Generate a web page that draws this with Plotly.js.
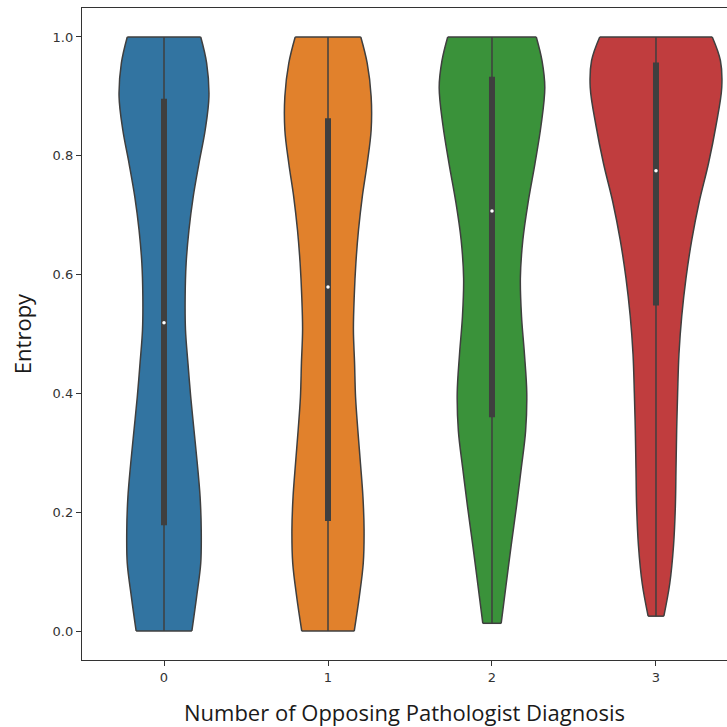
<!DOCTYPE html>
<html>
<head>
<meta charset="utf-8">
<script src="https://cdn.plot.ly/plotly-3.0.1.min.js"></script>
<style>html,body{margin:0;padding:0;background:#fff;overflow:hidden}#chart{width:727px;height:727px}</style>
</head>
<body>
<div id="chart"></div>
<script>
// Categories (number of opposing pathologist diagnoses)
const categories = [0, 1, 2, 3];
const tickLabels = ['0', '1', '2', '3'];

// Density profile of each violin: entropy levels and half-widths (in category units)
const levels0 = [0, 0.058, 0.114, 0.17, 0.226, 0.282, 0.338, 0.394, 0.451, 0.507, 0.563, 0.619, 0.675, 0.731, 0.787, 0.843, 0.9, 0.956, 1.0];
const width0  = [0.170, 0.199, 0.224, 0.227, 0.220, 0.203, 0.183, 0.163, 0.146, 0.131, 0.129, 0.135, 0.152, 0.178, 0.213, 0.251, 0.274, 0.260, 0.224];
const levels1 = [0, 0.058, 0.114, 0.17, 0.226, 0.282, 0.338, 0.394, 0.451, 0.507, 0.563, 0.619, 0.675, 0.731, 0.787, 0.843, 0.9, 0.956, 1.0];
const width1  = [0.160, 0.191, 0.215, 0.220, 0.213, 0.198, 0.182, 0.168, 0.162, 0.155, 0.160, 0.170, 0.186, 0.209, 0.239, 0.263, 0.263, 0.239, 0.200];
const levels2 = [0.013, 0.080, 0.144, 0.209, 0.273, 0.337, 0.401, 0.466, 0.530, 0.594, 0.658, 0.723, 0.787, 0.851, 0.915, 0.960, 1.0];
const width2  = [0.056, 0.087, 0.117, 0.149, 0.178, 0.205, 0.212, 0.198, 0.180, 0.173, 0.188, 0.221, 0.262, 0.299, 0.322, 0.305, 0.270];
const levels3 = [0.025, 0.080, 0.144, 0.209, 0.273, 0.337, 0.401, 0.466, 0.530, 0.594, 0.658, 0.723, 0.787, 0.851, 0.915, 0.960, 1.0];
const width3  = [0.048, 0.084, 0.107, 0.118, 0.122, 0.126, 0.132, 0.140, 0.157, 0.183, 0.218, 0.264, 0.320, 0.366, 0.401, 0.393, 0.343];

// Box statistics per category
const minVals    = [0, 0, 0.013, 0.025];
const maxVals    = [1.0, 1.0, 1.0, 1.0];
const q1Vals     = [0.178, 0.185, 0.360, 0.548];
const medianVals = [0.519, 0.579, 0.707, 0.775];
const q3Vals     = [0.896, 0.863, 0.933, 0.957];

const palette = ['#3274a1', '#e1812c', '#3a923a', '#c03d3e'];
const edge = '#3f3f3f';

const allLevels = [levels0, levels1, levels2, levels3];
const allWidths = [width0, width1, width2, width3];

const traces = [];
categories.forEach((c, i) => {
  const lv = allLevels[i], wd = allWidths[i];
  const n = lv.length;
  traces.push({
    type: 'scatter', mode: 'lines', x: wd.map(w => c - w), y: lv,
    line: {color: edge, width: 1.5, shape: 'spline', smoothing: 1},
    hoverinfo: 'skip', showlegend: false
  });
  traces.push({
    type: 'scatter', mode: 'lines', x: wd.map(w => c + w), y: lv,
    fill: 'tonextx', fillcolor: palette[i],
    line: {color: edge, width: 1.5, shape: 'spline', smoothing: 1},
    hoverinfo: 'skip', showlegend: false
  });
  traces.push({
    type: 'scatter', mode: 'lines',
    x: [c - wd[0], c + wd[0], null, c - wd[n - 1], c + wd[n - 1]],
    y: [lv[0], lv[0], null, lv[n - 1], lv[n - 1]],
    line: {color: edge, width: 1.5}, hoverinfo: 'skip', showlegend: false
  });
});
categories.forEach((c, i) => {
  traces.push({type: 'scatter', mode: 'lines', x: [c, c], y: [minVals[i], maxVals[i]],
    line: {color: edge, width: 1.5}, showlegend: false, hoverinfo: 'skip'});
  traces.push({type: 'scatter', mode: 'lines', x: [c, c], y: [q1Vals[i], q3Vals[i]],
    line: {color: edge, width: 6}, showlegend: false, hoverinfo: 'skip'});
});
traces.push({type: 'scatter', mode: 'markers', x: categories, y: medianVals,
  marker: {color: '#ffffff', size: 3.5, line: {width: 0}}, showlegend: false, hoverinfo: 'skip'});

const layout = {
  width: 727, height: 727,
  margin: {l: 82, r: 0, t: 8, b: 67},
  paper_bgcolor: '#ffffff', plot_bgcolor: '#ffffff',
  font: {family: 'DejaVu Sans', color: '#333333', size: 13},
  xaxis: {
    range: [-0.5, 3.433], tickvals: categories, ticktext: tickLabels,
    showgrid: false, zeroline: false, showline: true, linecolor: '#333333', linewidth: 1.2,
    mirror: true, ticks: 'outside', ticklen: 5, tickcolor: '#333333',
    tickfont: {family: 'DejaVu Sans', size: 13, color: '#333333'},
    title: {text: 'Number of Opposing Pathologist Diagnosis', standoff: 21,
      font: {family: 'Open Sans', size: 22, color: '#1a1a1a'}}
  },
  yaxis: {
    range: [-0.0488, 1.0488], tickvals: [0, 0.2, 0.4, 0.6, 0.8, 1.0],
    ticktext: ['0.0', '0.2', '0.4', '0.6', '0.8', '1.0'],
    showgrid: false, zeroline: false, showline: true, linecolor: '#333333', linewidth: 1.2,
    ticks: 'outside', ticklen: 5, tickcolor: '#333333',
    tickfont: {family: 'DejaVu Sans', size: 13, color: '#333333'},
    title: {text: 'Entropy', standoff: 14, font: {family: 'Open Sans', size: 22, color: '#1a1a1a'}}
  }
};
Plotly.newPlot('chart', traces, layout, {displayModeBar: false, staticPlot: true});
</script>
</body>
</html>
